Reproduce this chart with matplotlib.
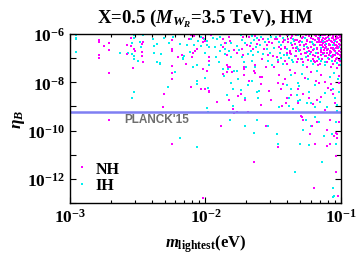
import numpy as np
import matplotlib
matplotlib.use("Agg")
import matplotlib.pyplot as plt
from matplotlib.ticker import FixedLocator, NullFormatter, LogFormatterSciNotation

# Fonts: bold Times-like everywhere, like the Mathematica original
plt.rcParams["font.family"] = ["Liberation Serif", "DejaVu Serif"]
plt.rcParams["font.weight"] = "bold"
plt.rcParams["axes.titleweight"] = "bold"
plt.rcParams["axes.labelweight"] = "bold"
plt.rcParams["mathtext.fontset"] = "custom"
plt.rcParams["mathtext.rm"] = "Liberation Serif:bold"
plt.rcParams["mathtext.bf"] = "Liberation Serif:bold"
plt.rcParams["mathtext.it"] = "Liberation Serif:italic:bold"

# Data, as (log10 m_lightest [eV], log10 eta_B)
nh_sparse = np.array([
    (-2.788, -6.25), (-2.788, -6.33), (-2.749, -6.50), (-2.712, -6.36), (-2.712, -6.66),
    (-2.788, -6.85), (-2.788, -6.99), (-2.712, -7.60), (-2.579, -6.44), (-2.552, -6.17),
    (-2.552, -6.50), (-2.528, -6.63), (-2.523, -6.69), (-2.582, -6.83), (-2.464, -7.18),
    (-2.469, -6.91), (-2.469, -6.74), (-2.464, -6.33), (-2.469, -6.41), (-2.535, -7.40),
    (-2.247, -6.25), (-2.247, -6.61), (-2.247, -6.72), (-2.203, -6.94), (-2.173, -6.88),
    (-2.144, -7.24), (-2.247, -7.32), (-2.247, -7.63), (-2.247, -7.85), (-2.307, -8.48),
    (-2.316, -9.03), (-2.109, -8.18), (-2.100, -6.96), (-2.095, -6.77), (-2.075, -6.69),
    (-2.066, -6.61), (-2.016, -6.33), (-2.016, -6.17), (-2.002, -6.30), (-1.977, -6.94),
    (-1.977, -7.10), (-2.021, -7.43), (-1.992, -7.54), (-2.036, -8.29), (-2.007, -8.26),
    (-1.977, -8.34), (-1.977, -8.42), (-1.918, -8.81), (-1.824, -6.11), (-1.820, -6.28),
    (-1.859, -6.39), (-1.869, -6.55), (-1.844, -6.88), (-1.834, -7.35), (-1.820, -7.35),
    (-1.873, -7.65), (-1.844, -7.57), (-1.805, -7.57), (-1.770, -6.80), (-1.790, -6.66),
    (-1.731, -6.63), (-1.721, -6.88), (-1.716, -7.35), (-1.716, -7.46), (-1.716, -7.68),
    (-1.697, -6.47), (-1.721, -6.11), (-1.736, -8.48), (-1.761, -8.56), (-1.711, -8.73),
    (-1.824, -8.73), (-1.800, -9.11), (-1.790, -9.28), (-1.766, -9.25), (-1.687, -9.22),
    (-2.105, -6.03), (-2.085, -6.08), (-1.957, -6.06), (-2.124, -6.19), (-1.869, -6.19),
    (-1.844, -7.29),
])

nh_dense = np.array([
    (-1.676, -6.11), (-1.637, -6.08), (-1.607, -6.25), (-1.573, -6.19), (-1.548, -6.47),
    (-1.529, -6.33), (-1.509, -6.39), (-1.647, -6.61), (-1.568, -6.61), (-1.538, -6.88),
    (-1.504, -6.91), (-1.617, -6.41), (-1.489, -6.22), (-1.671, -6.50),
    (-1.470, -6.19), (-1.450, -6.08), (-1.430, -6.33), (-1.410, -6.55), (-1.391, -6.19),
    (-1.376, -6.69), (-1.361, -6.08), (-1.342, -6.41), (-1.322, -6.25), (-1.302, -6.47),
    (-1.283, -6.11), (-1.273, -6.61), (-1.253, -6.30), (-1.238, -6.08), (-1.219, -6.52),
    (-1.204, -6.19), (-1.440, -6.63), (-1.401, -6.80), (-1.366, -6.83), (-1.332, -6.69),
    (-1.292, -6.83), (-1.263, -6.77), (-1.233, -6.69), (-1.204, -6.88), (-1.470, -6.94),
    (-1.415, -7.10), (-1.317, -7.02), (-1.278, -7.18), (-1.243, -7.07), (-1.199, -7.13),
    (-1.460, -6.52), (-1.351, -6.58), (-1.302, -6.28), (-1.258, -6.41), (-1.219, -6.74),
    (-1.184, -6.08), (-1.160, -6.17), (-1.140, -6.06), (-1.120, -6.22), (-1.096, -6.11),
    (-1.076, -6.28), (-1.056, -6.08), (-1.037, -6.19), (-1.017, -6.06), (-1.002, -6.28),
    (-1.179, -6.33), (-1.155, -6.47), (-1.135, -6.36), (-1.110, -6.52), (-1.091, -6.41),
    (-1.071, -6.58), (-1.051, -6.39), (-1.032, -6.50), (-1.012, -6.41), (-1.003, -6.61),
    (-1.174, -6.63), (-1.150, -6.74), (-1.125, -6.66), (-1.101, -6.80), (-1.081, -6.69),
    (-1.061, -6.85), (-1.041, -6.72), (-1.022, -6.83), (-1.002, -6.74), (-1.169, -6.94),
    (-1.140, -7.02), (-1.115, -6.91), (-1.086, -7.05), (-1.066, -6.96), (-1.046, -7.10),
    (-1.027, -6.99), (-1.007, -7.13), (-1.189, -7.18), (-1.155, -7.24), (-1.105, -7.16),
    (-1.056, -7.24), (-1.012, -7.29), (-1.164, -6.25), (-1.130, -6.52), (-1.081, -6.47),
    (-1.037, -6.58), (-1.017, -6.69), (-1.105, -6.30), (-1.066, -6.17), (-1.027, -6.33),
    (-1.007, -6.14), (-1.046, -6.88), (-1.091, -6.88), (-1.145, -6.88), (-1.179, -7.10),
    (-1.003, -6.94), (-1.125, -6.77), (-1.071, -6.74), (-1.017, -7.07), (-1.037, -6.03),
    (-1.115, -6.03), (-1.081, -6.03), (-1.160, -6.03), (-1.150, -6.33), (-1.096, -6.61),
    (-1.022, -6.55), (-1.003, -6.11), (-1.086, -6.25), (-1.046, -6.47), (-1.120, -6.44),
    (-1.007, -6.88), (-1.061, -6.61), (-1.027, -6.11), (-1.130, -6.17),
    (-1.598, -7.76), (-1.583, -7.76), (-1.642, -7.54), (-1.632, -7.63), (-1.676, -7.93),
    (-1.593, -8.07), (-1.534, -8.37), (-1.593, -8.95), (-1.519, -8.73), (-1.401, -8.64),
    (-1.406, -8.84), (-1.371, -8.51), (-1.445, -8.29), (-1.426, -8.07), (-1.416, -7.85),
    (-1.317, -8.26), (-1.283, -8.48), (-1.317, -8.84), (-1.239, -8.64), (-1.204, -8.89),
    (-1.175, -8.75), (-1.150, -8.62), (-1.096, -8.23), (-1.071, -8.31), (-1.057, -8.48),
    (-1.042, -8.87), (-1.012, -8.01), (-1.017, -7.74), (-1.293, -9.39), (-1.116, -9.14),
    (-1.435, -9.00), (-1.465, -8.04), (-1.460, -7.71), (-1.268, -7.82), (-1.184, -7.96),
    (-1.165, -8.01), (-1.121, -7.98), (-1.076, -8.09), (-1.145, -7.68), (-1.219, -7.57),
    (-1.342, -7.63), (-1.376, -7.49), (-1.494, -7.38), (-1.553, -7.38), (-1.637, -7.29),
    (-1.583, -7.02), (-1.465, -7.18), (-1.396, -7.24), (-1.322, -7.18), (-1.248, -7.35),
    (-1.170, -7.29), (-1.076, -7.35), (-1.032, -7.40),
])

# the nearly solid magenta patch in the top right corner
nh_corner = np.array([
    (-1.40, -6.05), (-1.33, -6.05), (-1.26, -6.05), (-1.19, -6.05), (-1.13, -6.05),
    (-1.08, -6.05), (-1.04, -6.05), (-1.01, -6.05),
    (-1.37, -6.15), (-1.29, -6.15), (-1.22, -6.15), (-1.17, -6.15), (-1.11, -6.15),
    (-1.06, -6.15), (-1.02, -6.15),
    (-1.42, -6.24), (-1.34, -6.24), (-1.25, -6.24), (-1.19, -6.24), (-1.14, -6.24),
    (-1.09, -6.24), (-1.05, -6.24), (-1.01, -6.24),
    (-1.39, -6.35), (-1.31, -6.35), (-1.23, -6.35), (-1.16, -6.35), (-1.12, -6.35),
    (-1.07, -6.35), (-1.03, -6.35),
    (-1.36, -6.45), (-1.27, -6.45), (-1.20, -6.45), (-1.14, -6.45), (-1.09, -6.45),
    (-1.04, -6.45), (-1.01, -6.45),
    (-1.41, -6.56), (-1.33, -6.56), (-1.24, -6.56), (-1.18, -6.56), (-1.12, -6.56),
    (-1.06, -6.56), (-1.02, -6.56),
    (-1.30, -6.68), (-1.21, -6.68), (-1.15, -6.68), (-1.10, -6.68), (-1.05, -6.68),
    (-1.38, -6.80), (-1.26, -6.80), (-1.17, -6.80), (-1.13, -6.80), (-1.08, -6.80),
    (-1.03, -6.80),
    (-1.33, -6.92), (-1.24, -6.92), (-1.19, -6.92), (-1.11, -6.92), (-1.06, -6.92),
    (-1.29, -7.04), (-1.21, -7.04), (-1.14, -7.04), (-1.04, -7.04),
])

nh_low = np.array([
    (-2.712, -9.58), (-2.247, -10.57), (-1.888, -9.83), (-2.021, -12.78), (-1.553, -9.80),
    (-1.465, -10.66), (-1.642, -11.29), (-1.288, -9.42), (-1.283, -9.58), (-1.180, -9.66),
    (-1.229, -10.13), (-1.214, -9.80), (-1.194, -10.57), (-1.106, -9.99), (-1.081, -9.58),
    (-1.106, -10.63), (-1.081, -10.57), (-1.052, -10.24), (-1.037, -10.08), (-1.032, -10.16),
    (-1.032, -10.32), (-1.017, -9.66), (-1.037, -11.04), (-1.037, -11.73), (-1.199, -12.39),
    (-1.022, -12.69),
])

ih_sparse = np.array([
    (-2.956, -6.03), (-2.956, -6.17), (-2.956, -6.22), (-2.956, -6.74), (-2.631, -6.77),
    (-2.542, -6.36), (-2.528, -6.17), (-2.572, -6.80), (-2.542, -6.83), (-2.528, -6.91),
    (-2.528, -7.02), (-2.498, -7.10), (-2.478, -6.52), (-2.483, -6.33), (-2.464, -6.03),
    (-2.528, -6.03), (-2.385, -6.19), (-2.360, -6.41), (-2.380, -6.50), (-2.380, -6.77),
    (-2.360, -7.18), (-2.336, -7.24), (-2.528, -8.40), (-2.542, -8.67),
    (-2.307, -6.17), (-2.272, -6.36), (-2.243, -6.11), (-2.189, -6.41), (-2.159, -6.91),
    (-2.164, -7.05), (-2.135, -6.44), (-2.326, -6.83), (-2.336, -7.21), (-2.095, -7.35),
    (-2.061, -7.27), (-2.007, -6.77), (-1.987, -6.47), (-1.977, -6.55), (-1.972, -7.29),
    (-2.002, -7.82), (-1.982, -8.23), (-2.066, -7.96), (-2.061, -8.07), (-2.277, -8.18),
    (-2.223, -7.57), (-1.898, -7.18), (-1.923, -6.96), (-1.928, -6.52), (-1.893, -6.69),
    (-1.859, -6.61), (-1.849, -6.39), (-1.829, -6.69), (-1.810, -6.36), (-1.810, -6.94),
    (-1.834, -7.46), (-1.790, -7.54), (-1.815, -8.01), (-1.844, -8.51), (-1.795, -8.29),
    (-1.736, -8.31), (-1.766, -6.50), (-1.756, -6.66), (-1.731, -6.25), (-1.731, -6.96),
    (-1.716, -7.18), (-1.702, -7.35), (-1.706, -6.36), (-1.692, -6.47), (-1.687, -6.83),
    (-1.687, -8.12), (-1.706, -8.67), (-1.795, -9.00), (-1.982, -9.25), (-1.992, -9.06),
    (-2.031, -6.50), (-2.056, -6.30), (-2.036, -6.11), (-1.947, -6.17), (-1.893, -6.11),
    (-2.105, -6.19), (-2.085, -6.44), (-2.115, -6.74), (-2.169, -6.99), (-2.011, -6.22),
    (-1.992, -6.30), (-1.884, -6.47), (-1.918, -6.19), (-1.736, -6.03), (-1.873, -7.43),
    (-1.864, -7.74), (-1.761, -7.87), (-1.859, -6.83), (-1.770, -7.54), (-1.682, -7.93),
])

ih_dense = np.array([
    (-1.656, -6.08), (-1.642, -6.25), (-1.622, -6.17), (-1.588, -6.11), (-1.661, -6.39),
    (-1.627, -6.55), (-1.597, -6.47), (-1.563, -6.33), (-1.538, -6.22), (-1.514, -6.11),
    (-1.548, -6.63), (-1.524, -6.77), (-1.494, -6.58), (-1.578, -6.83), (-1.652, -6.88),
    (-1.612, -6.74), (-1.666, -6.69),
    (-1.479, -6.11), (-1.460, -6.33), (-1.440, -6.47), (-1.415, -6.25), (-1.396, -6.63),
    (-1.371, -6.39), (-1.351, -6.19), (-1.327, -6.52), (-1.307, -6.72), (-1.287, -6.33),
    (-1.268, -6.17), (-1.248, -6.55), (-1.228, -6.83), (-1.214, -6.33), (-1.199, -6.63),
    (-1.450, -6.77), (-1.420, -6.88), (-1.381, -6.99), (-1.342, -6.91), (-1.297, -7.05),
    (-1.258, -6.96), (-1.224, -7.10), (-1.391, -6.06), (-1.317, -6.06), (-1.465, -7.07),
    (-1.356, -7.16),
    (-1.169, -6.19), (-1.130, -6.28), (-1.086, -6.19), (-1.041, -6.30), (-1.012, -6.52),
    (-1.150, -6.58), (-1.101, -6.61), (-1.056, -6.47), (-1.022, -6.17), (-1.184, -6.80),
    (-1.130, -6.83), (-1.076, -6.91), (-1.037, -6.80), (-1.164, -7.05), (-1.096, -6.99),
    (-1.003, -7.02), (-1.120, -7.18), (-1.066, -7.13), (-1.032, -7.21), (-1.002, -6.44),
    (-1.110, -6.41), (-1.194, -6.47), (-1.145, -7.13), (-1.051, -6.63), (-1.155, -6.11),
    (-1.43, -6.18), (-1.35, -6.30), (-1.28, -6.12), (-1.21, -6.40), (-1.32, -6.62),
    (-1.25, -6.74), (-1.17, -6.95), (-1.40, -6.85), (-1.44, -7.00), (-1.36, -7.08),
    (-1.27, -6.50), (-1.13, -6.30),
    (-1.657, -7.93), (-1.617, -8.42), (-1.603, -8.37), (-1.612, -8.67), (-1.455, -9.03),
    (-1.381, -8.67), (-1.371, -8.29), (-1.396, -8.12), (-1.322, -8.51), (-1.317, -8.78),
    (-1.303, -8.73), (-1.253, -8.84), (-1.239, -8.42), (-1.224, -8.87), (-1.155, -8.81),
    (-1.121, -8.45), (-1.061, -8.26), (-1.047, -8.67), (-1.032, -8.95), (-1.022, -7.87),
    (-1.012, -8.40), (-1.032, -9.17), (-1.194, -9.03), (-1.101, -9.03), (-1.357, -9.11),
    (-1.381, -9.00), (-1.317, -8.04), (-1.307, -8.15), (-1.243, -7.87), (-1.194, -8.12),
    (-1.081, -7.76), (-1.052, -7.63), (-1.175, -7.54), (-1.288, -7.65), (-1.366, -7.71),
    (-1.509, -7.29), (-1.637, -7.38), (-1.657, -7.13), (-1.539, -7.13), (-1.430, -7.24),
    (-1.283, -7.29), (-1.204, -7.24), (-1.116, -7.27), (-1.007, -7.29),
])

ih_low = np.array([
    (-2.188, -10.32), (-2.063, -10.66), (-1.819, -9.58), (-1.711, -9.80), (-1.622, -9.58),
    (-1.539, -9.80), (-1.642, -10.08), (-1.475, -10.13), (-1.465, -10.57), (-1.342, -11.73),
    (-1.258, -9.58), (-1.194, -9.42), (-1.165, -9.66), (-1.283, -9.99), (-1.224, -9.83),
    (-1.303, -10.57), (-1.239, -10.60), (-1.125, -10.24), (-1.066, -10.16), (-1.037, -10.57),
    (-1.037, -9.66), (-1.140, -11.29), (-1.062, -12.39), (-1.052, -12.69), (-1.062, -12.77),
])

eta_planck = 6.1e-10
y_labelled = [1e-12, 1e-10, 1e-8, 1e-6]
y_unlabelled = [1e-13, 1e-11, 1e-9, 1e-7]

nh = 10.0 ** np.vstack([nh_sparse, nh_dense, nh_corner, nh_low])
ih = 10.0 ** np.vstack([ih_sparse, ih_dense, ih_low])

fig = plt.figure(figsize=(3.6, 2.55), dpi=100)
ax = fig.add_axes([0.1944, 0.2, 0.7528, 0.6627])

ih_line, = ax.plot(ih[:, 0], ih[:, 1], 's', color="#00f0f0", ms=2.0, mew=0, ls="none", label="IH")
nh_line, = ax.plot(nh[:, 0], nh[:, 1], 's', color="#ff00ff", ms=2.0, mew=0, ls="none", label="NH")

ax.axhline(eta_planck, color="#7f7ff2", lw=1.8)
ax.text(2.5e-3, 3.0e-10, "PLANCK'15", family="Liberation Sans", weight="bold",
        fontsize=8.5, color="#6e6e6e", va="center", ha="left")

ax.set_xscale("log")
ax.set_yscale("log")
ax.set_xlim(1e-3, 1e-1)
ax.set_ylim(1e-13, 1e-6)

ax.yaxis.set_major_locator(FixedLocator(y_labelled))
ax.yaxis.set_major_formatter(LogFormatterSciNotation())
ax.yaxis.set_minor_locator(FixedLocator(y_unlabelled))
ax.yaxis.set_minor_formatter(NullFormatter())

ax.tick_params(which="both", direction="in", top=True, right=True, labelsize=12.5, width=0.8)
ax.tick_params(which="major", length=4)
ax.tick_params(axis="x", which="minor", length=2)
ax.tick_params(axis="y", which="minor", length=4)
for s in ax.spines.values():
    s.set_linewidth(1.0)

ax.set_title(r"X=0.5 ($M_{W_R}$=3.5 TeV), HM", fontsize=13.5, pad=8)
ax.set_xlabel(r"$m_{\mathrm{lightest}}$(eV)", fontsize=12, labelpad=5)
ax.set_ylabel(r"$\eta_B$", fontsize=12.5, labelpad=0)

ax.legend(handles=[nh_line, ih_line], loc="lower left", bbox_to_anchor=(-0.005, 0.0),
          frameon=False, fontsize=11.5, handlelength=0.5, handletextpad=0.6,
          labelspacing=0.05, borderaxespad=0.2, markerscale=1.0)

fig.savefig("out.png", dpi=100)
